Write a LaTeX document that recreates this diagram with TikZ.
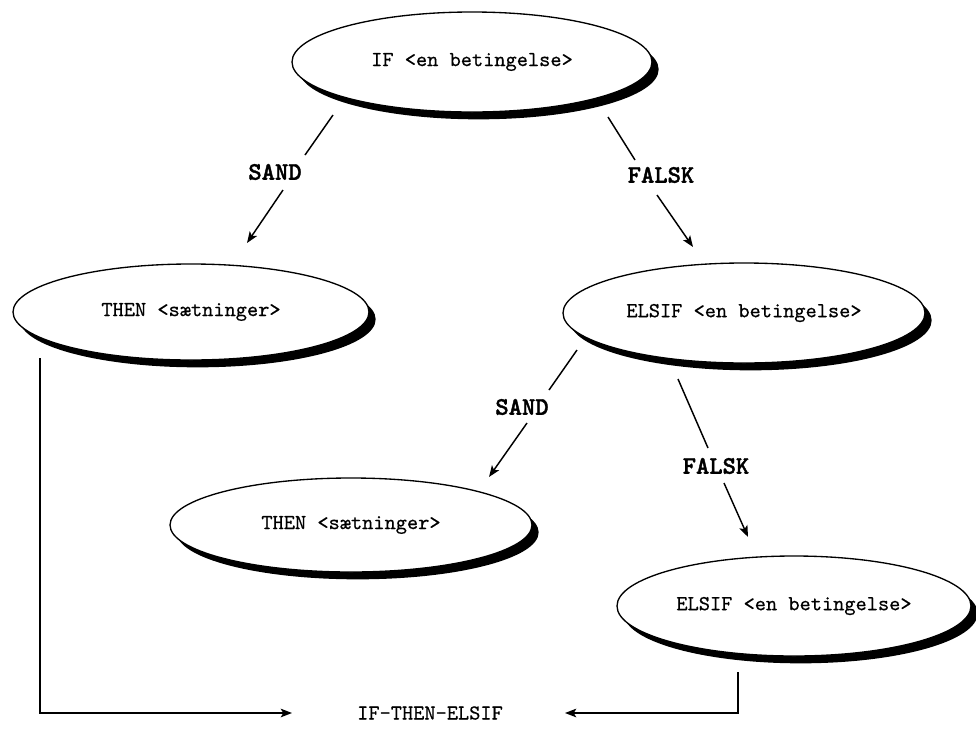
\documentclass[tikz,border=0pt]{standalone}
\usepackage{fontspec}
\newfontfamily\lblfont[FakeBold=1.5]{lmmonolt10-bold.otf}
\newfontfamily\bodyfont[FakeBold=0.5]{lmmono10-regular.otf}
\usetikzlibrary{shapes.geometric,shadows,arrows.meta}
\begin{document}
\begin{tikzpicture}[x=0.75pt,y=-0.75pt,
  oval/.style={ellipse, draw, line width=1.0pt, fill=white, inner sep=0pt,
    font=\bodyfont\fontsize{16}{18}\selectfont,
    drop shadow={shadow xshift=5pt, shadow yshift=-5.5pt, fill=black, opacity=1}},
  cond/.style={font=\lblfont\fontsize{19}{21}\selectfont, inner sep=0pt},
  plain/.style={font=\bodyfont\fontsize{16}{18}\selectfont, inner sep=0pt},
  conn/.style={line width=1.1pt},
  arr/.style={conn, -{Stealth[length=8.5pt,width=6.5pt,inset=2pt]}}]
\useasboundingbox (0,0) rectangle (976,729);
% ellipses
\node[oval, minimum width=270pt, minimum height=75pt] (if) at (472,62) {IF <en betingelse>};
\node[oval, minimum width=267pt, minimum height=72pt] (then1) at (191,312) {THEN <sætninger>};
\node[oval, minimum width=271.5pt, minimum height=75pt] (elsif1) at (744,313) {ELSIF <en betingelse>};
\node[oval, minimum width=271.5pt, minimum height=70.5pt] (then2) at (351,525) {THEN <sætninger>};
\node[oval, minimum width=265.5pt, minimum height=75pt] (elsif2) at (794,606) {ELSIF <en betingelse>};
% labels
\node[cond] (s1) at (275,172) {SAND};
\node[cond] (f1) at (661,175) {FALSK};
\node[cond] (s2) at (522,407) {SAND};
\node[cond] (f2) at (716,466) {FALSK};
\node[plain] (res) at (430,713) {IF-THEN-ELSIF};
% connector points
\coordinate (a1s) at (333,115); \coordinate (a1m) at (305,155);
\coordinate (a1n) at (283,190); \coordinate (a1e) at (247,243);
\coordinate (a2s) at (608,117); \coordinate (a2m) at (635,160);
\coordinate (a2n) at (657,195); \coordinate (a2e) at (693,247);
\coordinate (a3s) at (577,350); \coordinate (a3m) at (549,390);
\coordinate (a3n) at (527,423); \coordinate (a3e) at (489,477);
\coordinate (a4s) at (678,379); \coordinate (a4m) at (708,448);
\coordinate (a4n) at (724,483); \coordinate (a4e) at (748,537);
\coordinate (l0) at (40,358); \coordinate (la) at (292,713);
\coordinate (r0) at (738,672); \coordinate (ra) at (565,713);
% connectors
\draw[conn] (a1s) -- (a1m); \draw[arr] (a1n) -- (a1e);
\draw[conn] (a2s) -- (a2m); \draw[arr] (a2n) -- (a2e);
\draw[conn] (a3s) -- (a3m); \draw[arr] (a3n) -- (a3e);
\draw[conn] (a4s) -- (a4m); \draw[arr] (a4n) -- (a4e);
\draw[arr] (l0) |- (la);
\draw[arr] (r0) |- (ra);
\end{tikzpicture}
\end{document}
